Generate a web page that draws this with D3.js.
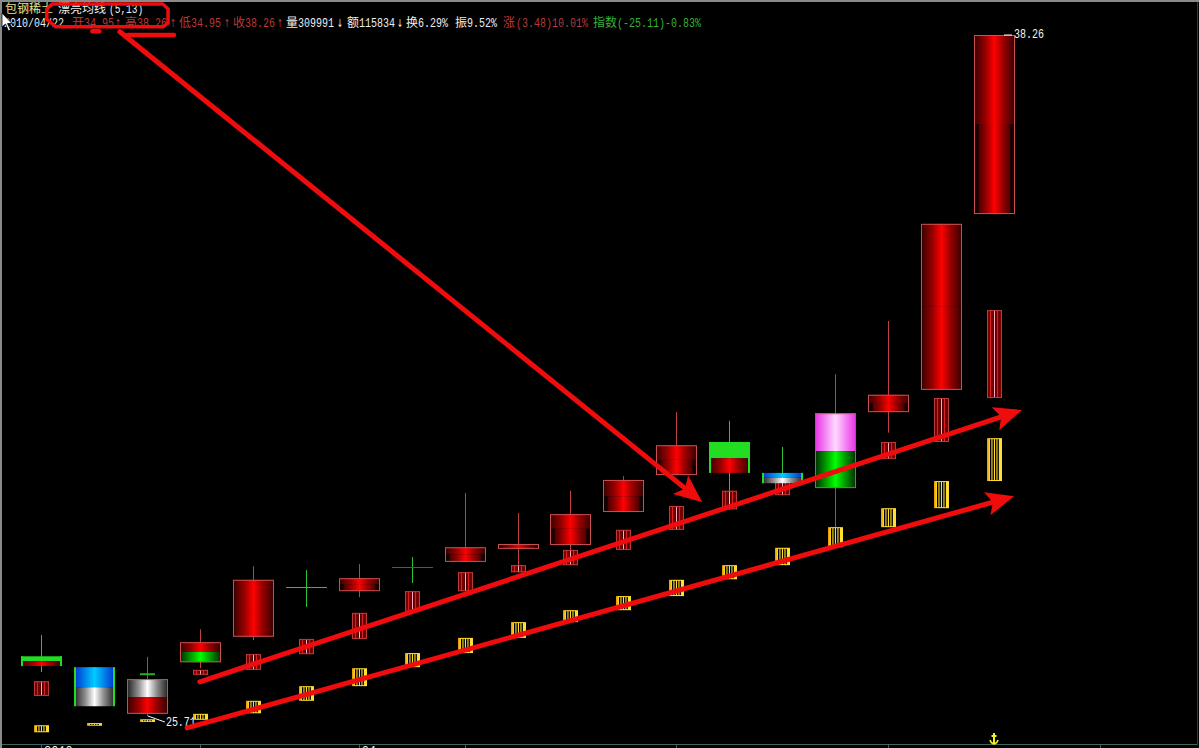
<!DOCTYPE html>
<html><head><meta charset="utf-8">
<script src="https://cdnjs.cloudflare.com/ajax/libs/d3/7.8.5/d3.min.js"></script>
<style>html,body{margin:0;padding:0;background:#000;overflow:hidden}svg{display:block}</style>
</head><body><div id="c"></div>
<script>
const days = d3.range(19);
const candleHigh  = [27.20,26.61,26.80,27.31,28.47,28.40,28.51,28.64,29.82,29.45,29.86,30.13,31.31,31.15,30.67,32.01,32.99,34.78,38.26];
const candleTop   = [26.81,26.61,26.39,27.07,28.22,28.09,28.25,28.46,28.82,28.88,29.43,30.06,30.70,30.76,30.19,31.29,31.63,34.78,38.26];
const candleSplit = [26.72,26.24,26.06,26.89,27.70,28.09,28.14,28.46,28.69,28.84,29.16,29.76,30.43,30.46,30.10,30.59,31.48,33.25,36.62];
const candleBottom= [26.63,25.89,25.75,26.70,27.17,28.09,28.01,28.46,28.55,28.79,28.86,29.47,30.15,30.19,30.00,29.91,31.31,31.72,34.96];
const candleLow   = [26.52,25.89,25.71,26.59,27.11,27.72,27.90,28.16,28.55,28.47,28.73,29.47,30.15,29.51,29.78,29.19,30.93,31.72,34.96];
const upperFill = ["solid","blue","silver","red","red","none","red","none","red","red","red","red","red","solid","blue","pink","red","red","red"];
const lowerFill = ["red","silver","red","green","red","none","redB","none","redB","redB","redB","redB","redB","red","silver","green","redB","red","redB"];
const candleKind= ["fall","fall","rise","rise","rise","cross","rise","cross2","rise","rise","rise","rise","rise","fall","fall","rise","rise","rise","rise"];
const ma5Top    = [26.35,null,null,26.56,26.85,27.13,27.61,28.01,28.36,28.49,28.77,29.14,29.58,29.86,30.06,null,30.76,31.57,33.19];
const ma5Bottom = [26.08,null,null,26.47,26.56,26.85,27.13,27.63,28.01,28.36,28.49,28.77,29.14,29.52,29.78,null,30.45,30.76,31.57];
const ma13Top   = [25.54,25.58,25.65,25.75,25.99,26.26,26.59,26.87,27.15,27.44,27.66,27.92,28.22,28.49,28.81,29.19,29.54,30.04,30.83];
const ma13Bottom= [25.41,25.53,25.60,25.64,25.76,25.99,26.26,26.61,26.87,27.15,27.44,27.66,27.92,28.23,28.49,28.82,29.19,29.54,30.04];
const maTickDay = [2], maTickPrice = [26.48];
const axisTickDays = [0,3,6,8,12,16,20];
const axisLabels = [{day:0,text:"2010"},{day:6,text:"04"}];
const hiLabel = "38.26", loLabel = "25.71";
const hiPrice = 38.26, loPrice = 25.71;
const arrowStart = [[3.00,26.34],[2.76,25.49],[1.49,38.32]];
const arrowEnd   = [[18.53,31.35],[18.38,29.76],[12.49,29.65]];
const marker = [[0.21,38.83],[2.30,38.83],[2.40,38.74],[2.40,38.48],[2.30,38.41],[0.28,38.41],[0.11,38.55],[0.11,38.74]];
const strokes = [[[0.97,38.33],[1.10,38.33]],[[1.64,38.26],[2.51,38.26]]];
const titleCn = [{t:"包钢稀土",c:"#e8e090",x:5},{t:"漂亮均线",c:"#f0f0f0",x:58}];
const titleLat = [{t:"(5,13)",c:"#f0f0f0",x:109}];
const white="#eeeeee",red="#b83a3a",grn="#38b038";
const infoCn = [["开",72,red],["高",125,red],["低",179,red],["收",233,red],["量",286,white],["额",347,white],["换",406,white],["振",455,white],["涨",503,red],["指数",593,grn]];
const infoLat = [["2010/04/22",4,white],["34.95",84,red],["38.26",137,red],["34.95",191,red],["38.26",245,red],["309991",298,white],["115834",359,white],["6.29%",418,white],["9.52%",467,white],["(3.48)10.01%",516,red],["(-25.11)-0.83%",617,grn]];
const infoArrows = [["↑",115,red],["↑",170,red],["↑",224,red],["↑",277,red],["↓",337,white],["↓",397,white]];

const W=1199,H=748;
const x=d3.scaleLinear().domain([0,18]).range([41,994]);
const y=d3.scaleLinear().domain([25.71,38.26]).range([716,35]);
const svg=d3.select("#c").append("svg").attr("width",W).attr("height",H).style("background","#000");
const defs=svg.append("defs");
const grads={
 red:[[0,"#340000"],[.28,"#980000"],[.5,"#ff0000"],[.72,"#980000"],[1,"#340000"]],
 redB:[[0,"#5a0000"],[.03,"#140000"],[.1,"#140000"],[.13,"#500000"],[.3,"#980000"],[.5,"#ff0000"],[.7,"#980000"],[.87,"#500000"],[.9,"#140000"],[.97,"#140000"],[1,"#5a0000"]],
 green:[[0,"#002c00"],[.5,"#00ff00"],[1,"#002c00"]],
 blue:[[0,"#0030d0"],[.5,"#00ccff"],[1,"#0030d0"]],
 silver:[[0,"#202020"],[.28,"#909090"],[.5,"#ffffff"],[.72,"#909090"],[1,"#202020"]],
 pink:[[0,"#e830e8"],[.5,"#ffd8ff"],[1,"#e830e8"]],
 gold:[[0,"#e89000"],[.2,"#ffe030"],[1,"#ffe030"]]
};
Object.entries(grads).forEach(([k,st])=>{
 const g=defs.append("linearGradient").attr("id","g-"+k).attr("x1",0).attr("x2",1).attr("y1",0).attr("y2",0);
 st.forEach(s=>g.append("stop").attr("offset",s[0]).attr("stop-color",s[1]));
});
const fillOf=k=>k==="solid"?"#22dd22":`url(#g-${k})`;
const BW=41,MW=15;
const wickC=d=>(candleKind[d]==="fall"||candleKind[d]==="cross"||candleKind[d]==="cross2")?"#30c030":"#c04040";

// frame
const fr=svg.append("g");
fr.append("rect").attr("x",0).attr("y",0).attr("width",W).attr("height",2).attr("fill","#8a8a8a");
fr.append("rect").attr("x",0).attr("y",0).attr("width",2).attr("height",H).attr("fill","#8a8a8a");
fr.append("rect").attr("x",2).attr("y",744).attr("width",W-4).attr("height",1).attr("fill","#3f6464");
fr.append("rect").attr("x",1197).attr("y",2).attr("width",1).attr("height",743).attr("fill","#2a4444");
fr.selectAll(".t").data(axisTickDays).join("rect").attr("x",d=>Math.round(x(d))).attr("y",744).attr("width",1).attr("height",4).attr("fill","#3f6464");
fr.selectAll(".l").data(axisLabels).join("text").attr("x",d=>x(d.day)+3).attr("y",755).attr("fill","#eee")
  .attr("font-family","Liberation Mono").attr("font-size",12).text(d=>d.text);

// wicks
svg.append("g").selectAll("line").data(days).join("line")
 .attr("x1",d=>Math.round(x(d))+.5).attr("x2",d=>Math.round(x(d))+.5)
 .attr("y1",d=>y(candleHigh[d])).attr("y2",d=>y(candleLow[d])).attr("stroke",wickC).attr("stroke-width",1);

// ma13 boxes
const ma13=svg.append("g").selectAll("g").data(days).join("g");
ma13.append("rect").attr("x",d=>Math.round(x(d))-7).attr("width",MW).attr("y",d=>y(ma13Top[d]))
  .attr("height",d=>y(ma13Bottom[d])-y(ma13Top[d])).attr("fill","url(#g-gold)");
[-4,-1.5,1,3.5].forEach(o=>{
 ma13.append("rect").attr("x",d=>Math.round(x(d))+o).attr("width",1.4).attr("y",d=>y(ma13Top[d])+1)
  .attr("height",d=>Math.max(1,y(ma13Bottom[d])-y(ma13Top[d])-2)).attr("fill","#000");
});

// ma5 boxes
const ma5Days=days.filter(d=>ma5Top[d]!==null);
const ma5=svg.append("g").selectAll("g").data(ma5Days).join("g");
ma5.append("rect").attr("x",d=>Math.round(x(d))-7).attr("width",MW).attr("y",d=>y(ma5Top[d]))
  .attr("height",d=>y(ma5Bottom[d])-y(ma5Top[d])).attr("fill","#7a0000");
[[-7,"#b83c3c"],[-4,"#d82020"],[-1,"#500000"],[0,"#f0b0c8"],[1,"#500000"],[3,"#d82020"],[5,"#600000"],[7,"#b83c3c"]].forEach(([o,c])=>{
 ma5.append("rect").attr("x",d=>Math.round(x(d))+o).attr("width",1).attr("y",d=>y(ma5Top[d]))
  .attr("height",d=>y(ma5Bottom[d])-y(ma5Top[d])).attr("fill",c);
});
ma5.append("rect").attr("x",d=>Math.round(x(d))-6.5).attr("width",MW-1).attr("y",d=>y(ma5Top[d])+.5)
  .attr("height",d=>Math.max(0,y(ma5Bottom[d])-y(ma5Top[d])-1)).attr("fill","none").attr("stroke","#b83c3c");
svg.append("g").selectAll("rect").data(maTickDay).join("rect").attr("x",d=>Math.round(x(d))-7).attr("width",MW)
  .attr("y",(d,i)=>y(maTickPrice[i])-1).attr("height",2).attr("fill","#20b020");

// bodies
const bodyDays=days.filter(d=>upperFill[d]!=="none");
const body=svg.append("g").selectAll("g").data(bodyDays).join("g");
const bx=d=>Math.round(x(d))-20;
body.append("rect").attr("x",bx).attr("width",BW).attr("y",d=>y(candleTop[d])).attr("height",d=>y(candleSplit[d])-y(candleTop[d])).attr("fill",d=>fillOf(upperFill[d]));
body.append("rect").attr("x",bx).attr("width",BW).attr("y",d=>y(candleSplit[d])).attr("height",d=>y(candleBottom[d])-y(candleSplit[d])).attr("fill",d=>fillOf(lowerFill[d]));
body.filter(d=>candleKind[d]==="rise").append("rect").attr("x",d=>bx(d)+.5).attr("width",BW-1).attr("y",d=>y(candleTop[d])+.5)
  .attr("height",d=>y(candleBottom[d])-y(candleTop[d])-1).attr("fill","none").attr("stroke","#c85050").attr("stroke-width",1);
[0,BW-2].forEach(o=>{
 body.filter(d=>candleKind[d]==="fall").append("rect").attr("x",d=>bx(d)+o).attr("width",2).attr("y",d=>y(candleTop[d]))
  .attr("height",d=>y(candleBottom[d])-y(candleTop[d])).attr("fill","#22dd22");
});
svg.append("g").selectAll("rect").data(days.filter(d=>candleKind[d]==="cross"||candleKind[d]==="cross2")).join("rect")
 .attr("x",bx).attr("width",BW).attr("y",d=>Math.round(y(candleTop[d]))).attr("height",1)
 .attr("fill",d=>candleKind[d]==="cross"?"#30c030":"#b03030");

// price labels
const lab=svg.append("g").attr("fill","#f4f4f4").attr("font-family","Liberation Mono").attr("font-size",12);
lab.append("line").attr("x1",x(18)+10).attr("x2",x(18)+18).attr("y1",y(hiPrice)).attr("y2",y(hiPrice)).attr("stroke","#fff");
lab.append("text").attr("x",x(18)+20).attr("y",y(hiPrice)+3).attr("textLength",30).attr("lengthAdjust","spacingAndGlyphs").text(hiLabel);
lab.append("line").attr("x1",x(2)+1).attr("x2",x(2)+18).attr("y1",y(loPrice)).attr("y2",y(loPrice)+6).attr("stroke","#fff");
lab.append("text").attr("x",x(2)+19).attr("y",y(loPrice)+10).attr("textLength",30).attr("lengthAdjust","spacingAndGlyphs").text(loLabel);

// header text
const hdr=svg.append("g").attr("font-size",12);
const cn="'Noto Sans CJK SC'",mono="'Liberation Mono'";
hdr.selectAll(".a").data(titleCn).join("text").attr("x",d=>d.x).attr("y",13).attr("fill",d=>d.c).attr("font-family",cn).text(d=>d.t);
hdr.selectAll(".b").data(titleLat).join("text").attr("x",d=>d.x).attr("y",13).attr("fill",d=>d.c).attr("font-family",mono)
  .attr("textLength",d=>d.t.length*5.7).attr("lengthAdjust","spacingAndGlyphs").text(d=>d.t);
hdr.selectAll(".c").data(infoCn).join("text").attr("x",d=>d[1]).attr("y",27).attr("fill",d=>d[2]).attr("font-family",cn).text(d=>d[0]);
hdr.selectAll(".d").data(infoLat).join("text").attr("x",d=>d[1]).attr("y",27).attr("fill",d=>d[2]).attr("font-family",mono)
  .attr("textLength",d=>d[0].length*6).attr("lengthAdjust","spacingAndGlyphs").text(d=>d[0]);
hdr.selectAll(".e").data(infoArrows).join("text").attr("x",d=>d[1]).attr("y",27).attr("fill",d=>d[2]).attr("font-family","'DejaVu Sans'").attr("font-size",11)
  .attr("textLength",6).attr("lengthAdjust","spacingAndGlyphs").text(d=>d[0]);

// annotations
const ann=svg.append("g").attr("fill","none").attr("stroke","#f00c0c").attr("stroke-linecap","round").attr("stroke-linejoin","round");
const px=p=>[x(p[0]),y(p[1])];
arrowStart.forEach((s,i)=>{
 const a=px(s),b=px(arrowEnd[i]);
 const ang=Math.atan2(b[1]-a[1],b[0]-a[0]),L=28,Wd=12,notch=6;
 const base=[b[0]-L*Math.cos(ang),b[1]-L*Math.sin(ang)];
 const inner=[base[0]+notch*Math.cos(ang),base[1]+notch*Math.sin(ang)];
 ann.append("path").attr("d",d3.line()([a,inner])).attr("stroke-width",5);
 const nx=-Math.sin(ang),ny=Math.cos(ang);
 ann.append("path").attr("d",d3.line()([b,[base[0]+nx*Wd,base[1]+ny*Wd],inner,[base[0]-nx*Wd,base[1]-ny*Wd]])+"Z").attr("fill","#f00c0c").attr("stroke","none");
});
ann.append("path").attr("d",d3.line().curve(d3.curveLinearClosed)(marker.map(px))).attr("stroke-width",3.5);
strokes.forEach(s=>ann.append("path").attr("d",d3.line()(s.map(px))).attr("stroke-width",4.5));

// anchor icon at last day
const anc=svg.append("g").attr("transform",`translate(${x(18)},738)`).attr("stroke","#f4f020").attr("fill","none").attr("stroke-width",2);
anc.append("path").attr("d","M0,-5V5M-2.5,-2H2.5");
anc.append("path").attr("d","M-4,2Q-3,5.5 0,6Q3,5.5 4,2").attr("stroke-width",1.5);

// mouse cursor
svg.append("path").attr("d",d3.line()([[2,13],[2,27],[5.5,24],[8.5,31],[10.5,30],[7.5,23.5],[12,23.5]])+"Z")
 .attr("fill","#fff").attr("stroke","#000").attr("stroke-width",.8);
</script></body></html>
